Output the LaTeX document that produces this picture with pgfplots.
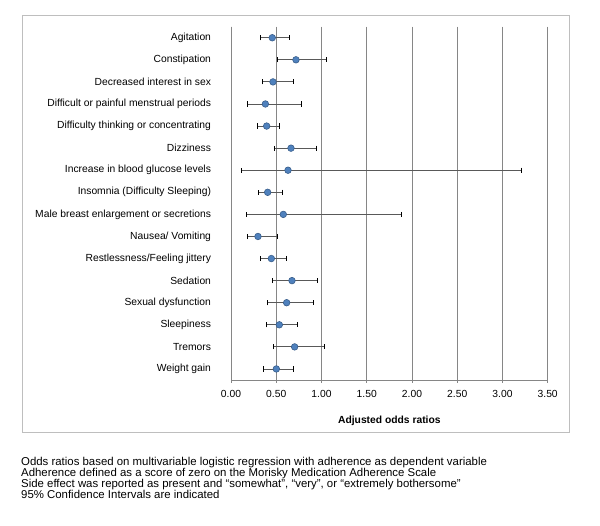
\documentclass[border=0pt]{standalone}
\usepackage{fontspec}
\setmainfont{Liberation Sans}
\usepackage{pgfplots}
\usepackage{pgfplotstable}
\pgfplotsset{compat=1.18}
\definecolor{ptfill}{RGB}{79,129,189}
\definecolor{ptdraw}{RGB}{56,93,138}
\definecolor{gridc}{RGB}{134,134,134}
\definecolor{boxc}{RGB}{190,190,190}
\definecolor{errc}{RGB}{89,89,89}
\pgfplotstableread{
y  or     em     ep
1  0.456  0.132  0.185
2  0.718  0.206  0.332
3  0.464  0.121  0.225
4  0.380  0.203  0.397
5  0.394  0.107  0.136
6  0.663  0.188  0.284
7  0.630  0.516  2.580
8  0.405  0.099  0.159
9  0.578  0.412  1.300
10 0.298  0.118  0.214
11 0.446  0.122  0.162
12 0.674  0.214  0.284
13 0.615  0.210  0.298
14 0.534  0.144  0.195
15 0.703  0.232  0.328
16 0.501  0.140  0.184
}\datatable
\begin{document}
\begin{tikzpicture}
\useasboundingbox (0pt,0pt) rectangle (600pt,526pt);
\draw[boxc, line width=0.8pt] (22.7pt,511pt) rectangle (569.3pt,93.3pt);
\begin{axis}[
  at={(231pt,146pt)}, anchor=south west,
  width=316.7pt, height=353.3pt, scale only axis,
  font=\fontsize{10.3}{12}\selectfont,
  axis lines*=left,
  axis line style={gridc, line width=0.6pt},
  xmin=0, xmax=3.5,
  xtick={0,0.5,1,1.5,2,2.5,3,3.5},
  xticklabel={\pgfmathprintnumber[fixed, fixed zerofill, precision=2, assume math mode=true]{\tick}},
  xmajorgrids,
  grid style={gridc, line width=0.6pt},
  y dir=reverse,
  ymin=0.5, ymax=16.5,
  ytick={1,...,16},
  yticklabels={Agitation, Constipation, Decreased interest in sex, Difficult or painful menstrual periods, Difficulty thinking or concentrating, Dizziness, Increase in blood glucose levels, Insomnia (Difficulty Sleeping), Male breast enlargement or secretions, Nausea/ Vomiting, Restlessness/Feeling jittery, Sedation, Sexual dysfunction, Sleepiness, Tremors, Weight gain},
  minor ytick={0.5,1.5,...,16.5},
  tick align=outside,
  major tick length=3pt,
  minor tick length=3pt,
  ytick style={draw=none},
  minor tick style={draw=gridc, line width=0.6pt},
  xtick style={draw=gridc, line width=0.6pt},
  yticklabel style={xshift=-13.5pt},
  xticklabel style={yshift=-4pt},
  xlabel={\textbf{Adjusted odds ratios}},
  xlabel style={at={(axis description cs:0.5,0)}, anchor=center, yshift=-41pt},
  clip=false,
]
\addplot[only marks, mark=*, mark size=3.3pt, mark options={fill=ptfill, draw=ptdraw, line width=0.6pt},
  error bars/.cd, x dir=both, x explicit,
  error bar style={errc, line width=0.8pt},
  error mark=|,
  error mark options={black, line width=0.8pt, mark size=2.6pt}]
  table[x=or, y=y, x error minus=em, x error plus=ep] {\datatable};
\end{axis}
\begin{scope}[every node/.style={anchor=base west, inner sep=0pt, font=\fontsize{11.4}{12}\selectfont}]
\node at (21pt,60.3pt) {Odds ratios based on multivariable logistic regression with adherence as dependent variable};
\node at (21pt,49.3pt) {Adherence defined as a score of zero on the Morisky Medication Adherence Scale};
\node at (21pt,38.7pt) {Side effect was reported as present and “somewhat”, “very”, or “extremely bothersome”};
\node at (21pt,27.7pt) {95\% Confidence Intervals are indicated};
\end{scope}
\end{tikzpicture}
\end{document}
